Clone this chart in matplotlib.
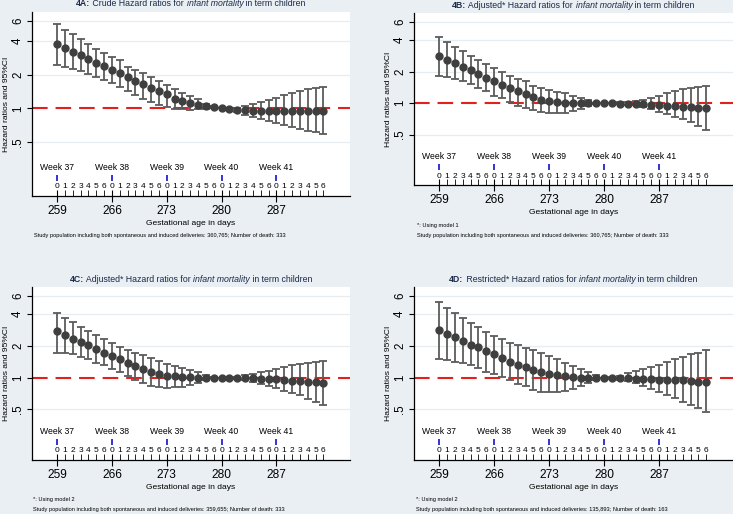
import numpy as np
import matplotlib.pyplot as plt
from matplotlib import transforms

plt.rcParams['font.family'] = ['Liberation Sans', 'DejaVu Sans']

days = np.arange(259, 294)
week_days = [259, 266, 273, 280, 287]
week_labels = ['Week 37', 'Week 38', 'Week 39', 'Week 40', 'Week 41']
yticks = [0.5, 1, 2, 4, 6]
ytick_labels = ['.5', '1', '2', '4', '6']

# 4A crude
hr_a = [3.73, 3.44, 3.19, 2.98, 2.74, 2.56, 2.37, 2.20, 2.06, 1.89, 1.77, 1.64,
        1.53, 1.42, 1.33, 1.22, 1.17, 1.12, 1.07, 1.04, 1.02, 1.00, 0.98, 0.965,
        0.96, 0.95, 0.95, 0.95, 0.95, 0.95, 0.95, 0.95, 0.95, 0.95, 0.95]
lo_a = [2.44, 2.34, 2.23, 2.14, 2.04, 1.89, 1.79, 1.67, 1.54, 1.43, 1.32, 1.22,
        1.15, 1.07, 1.02, 0.99, 0.98, 0.97, 0.98, 0.99, 1.00, 1.00, 0.97, 0.92,
        0.88, 0.84, 0.80, 0.765, 0.74, 0.71, 0.68, 0.65, 0.63, 0.61, 0.59]
hi_a = [5.64, 5.05, 4.59, 4.14, 3.76, 3.42, 3.15, 2.90, 2.71, 2.36, 2.20, 2.08,
        1.92, 1.77, 1.63, 1.48, 1.38, 1.30, 1.20, 1.10, 1.04, 1.00, 0.99, 1.01,
        1.05, 1.09, 1.14, 1.19, 1.25, 1.32, 1.37, 1.43, 1.49, 1.52, 1.55]

# 4B adjusted, model 1
hr_b = [2.84, 2.58, 2.40, 2.23, 2.05, 1.91, 1.75, 1.63, 1.50, 1.38, 1.30, 1.21,
        1.14, 1.08, 1.045, 1.02, 1.01, 1.00, 1.00, 1.00, 1.00, 1.00, 1.00, 0.99,
        0.985, 0.98, 0.97, 0.96, 0.95, 0.94, 0.93, 0.92, 0.91, 0.90, 0.89]
lo_b = [1.83, 1.77, 1.68, 1.63, 1.52, 1.40, 1.30, 1.17, 1.11, 1.03, 0.94, 0.90,
        0.85, 0.815, 0.80, 0.80, 0.81, 0.84, 0.88, 0.93, 0.99, 1.00, 1.00, 0.97,
        0.95, 0.95, 0.92, 0.87, 0.83, 0.78, 0.74, 0.70, 0.66, 0.61, 0.55]
hi_b = [4.30, 3.83, 3.46, 3.12, 2.82, 2.58, 2.37, 2.17, 1.99, 1.83, 1.70, 1.62,
        1.46, 1.40, 1.32, 1.27, 1.24, 1.18, 1.12, 1.07, 1.01, 1.00, 1.00, 1.02,
        1.03, 1.05, 1.08, 1.13, 1.18, 1.24, 1.29, 1.35, 1.39, 1.41, 1.45]

# 4C adjusted, model 2
hr_c = [2.75, 2.52, 2.34, 2.18, 2.03, 1.86, 1.73, 1.61, 1.50, 1.39, 1.30, 1.21,
        1.14, 1.09, 1.04, 1.03, 1.01, 1.01, 1.00, 1.00, 1.00, 1.00, 1.00, 1.00,
        1.00, 0.995, 0.975, 0.968, 0.96, 0.947, 0.934, 0.92, 0.914, 0.907, 0.894]
lo_c = [1.73, 1.71, 1.66, 1.56, 1.50, 1.39, 1.32, 1.22, 1.12, 1.04, 0.95, 0.88,
        0.84, 0.81, 0.80, 0.81, 0.82, 0.85, 0.89, 0.94, 0.99, 1.00, 1.00, 0.98,
        0.95, 0.91, 0.87, 0.83, 0.79, 0.75, 0.72, 0.68, 0.63, 0.59, 0.55]
hi_c = [4.12, 3.72, 3.36, 3.04, 2.75, 2.52, 2.31, 2.12, 1.97, 1.83, 1.73, 1.63,
        1.52, 1.43, 1.35, 1.28, 1.24, 1.18, 1.13, 1.07, 1.01, 1.00, 1.00, 1.02,
        1.05, 1.09, 1.12, 1.16, 1.21, 1.26, 1.31, 1.35, 1.39, 1.41, 1.43]

# 4D restricted, model 2
hr_d = [2.83, 2.59, 2.41, 2.25, 2.06, 1.94, 1.78, 1.66, 1.54, 1.41, 1.33, 1.26,
        1.17, 1.12, 1.09, 1.06, 1.03, 1.01, 1.00, 1.00, 1.00, 1.00, 1.00, 1.00,
        0.986, 0.979, 0.965, 0.965, 0.958, 0.958, 0.958, 0.944, 0.93, 0.917, 0.904]
lo_d = [1.51, 1.47, 1.41, 1.38, 1.32, 1.24, 1.14, 1.09, 1.01, 0.94, 0.87, 0.83,
        0.77, 0.73, 0.73, 0.73, 0.74, 0.78, 0.83, 0.89, 0.94, 1.00, 0.98, 0.95,
        0.92, 0.88, 0.83, 0.78, 0.73, 0.69, 0.64, 0.59, 0.55, 0.51, 0.47]
hi_d = [5.26, 4.62, 4.12, 3.67, 3.27, 3.00, 2.71, 2.48, 2.31, 2.15, 2.03, 1.92,
        1.81, 1.71, 1.61, 1.50, 1.38, 1.30, 1.21, 1.13, 1.07, 1.00, 1.02, 1.04,
        1.10, 1.15, 1.21, 1.26, 1.33, 1.41, 1.50, 1.56, 1.66, 1.73, 1.81]

panel_ids = ['4A:', '4B:', '4C:', '4D:']
panel_kinds = ['Crude', 'Adjusted*', 'Adjusted*', 'Restricted*']
notes = [[None, 'Study population including both spontaneous and induced deliveries: 360,765; Number of death: 333'],
         ['*: Using model 1', 'Study population including both spontaneous and induced deliveries: 360,765; Number of death: 333'],
         ['*: Using model 2', 'Study population including both spontaneous and induced deliveries: 359,655; Number of death: 333'],
         ['*: Using model 2', 'Study population including both spontaneous and induced deliveries: 135,893; Number of death: 163']]

W, H = 733, 514
bg = '#e9eff2'
fig = plt.figure(figsize=(W / 100, H / 100), dpi=100, facecolor=bg)
renderer = fig.canvas.get_renderer()

# axes boxes in pixels: left, top, right, bottom
boxes = [(32, 12, 350, 196), (414, 13, 733, 185), (32, 287, 350, 460), (414, 287, 733, 460)]
# footnote rows in pixels (x, y of "*" line, y of study line)
note_pos = [(34, 225, 236), (417, 225, 236), (33, 499, 509), (416, 499, 509)]
data = [(hr_a, lo_a, hi_a), (hr_b, lo_b, hi_b), (hr_c, lo_c, hi_c), (hr_d, lo_d, hi_d)]

for i, (l, t, r, b) in enumerate(boxes):
    ax = fig.add_axes([l / W, 1 - b / H, (r - l) / W, (b - t) / H])
    ax.set_facecolor('white')
    hr, lo, hi = [np.array(v) for v in data[i]]
    ax.set_yscale('log')
    ax.set_ylim(0.165, 7.25)
    ax.set_xlim(255.8, 296.4)
    for yv in [0.5, 2, 4, 6]:
        ax.axhline(yv, color='#e6ecef', lw=0.9, zorder=0)
    ax.axhline(1, color='#e3211c', lw=1.5, dashes=(7.5, 3.8), zorder=1)
    ax.errorbar(days, hr, yerr=[hr - lo, hi - hr], fmt='o', color='#3f3f3f',
                ecolor='#5c5c5c', elinewidth=1.3, capsize=2.6, capthick=1.3,
                ms=5, zorder=3)

    ax.yaxis.set_major_locator(plt.FixedLocator(yticks))
    ax.yaxis.set_minor_locator(plt.NullLocator())
    ax.set_yticklabels(ytick_labels)
    ax.tick_params(axis='y', labelrotation=90, labelsize=8.3, length=3.6, pad=2)
    for lab in ax.get_yticklabels():
        lab.set_va('center')
    ax.set_ylabel('Hazard ratios and 95%CI', fontsize=6.1, labelpad=1.5)

    ax.set_xticks(week_days)
    ax.set_xticklabels([str(d) for d in week_days])
    ax.set_xticks([d for d in days if d not in week_days], minor=True)
    ax.tick_params(axis='x', which='major', direction='inout', length=8.6,
                   labelsize=8.6, pad=2.5)
    ax.tick_params(axis='x', which='minor', direction='in', length=4.3)
    ax.set_xlabel('Gestational age in days', fontsize=6.1, labelpad=2)

    for s in ['top', 'right']:
        ax.spines[s].set_visible(False)
    ax.spines['left'].set_linewidth(0.9)
    ax.spines['bottom'].set_linewidth(0.9)

    base = transforms.blended_transform_factory(ax.transData, ax.transAxes)
    up = lambda px: base + transforms.ScaledTranslation(0, px / 100, fig.dpi_scale_trans)
    for d in days:
        ax.text(d, 0, str((d - 259) % 7), transform=up(9), ha='center',
                va='center', fontsize=6, clip_on=False)
    ax.plot(week_days, [0] * len(week_days), ls='none', marker='|', ms=4.5,
            mew=1.3, color='#2323d6', transform=up(18), clip_on=False)
    for d, w in zip(week_days, week_labels):
        ax.text(d, 0, w, transform=up(28.5), ha='center', va='center',
                fontsize=6.2, clip_on=False)

    # title in pieces: bold id, plain, italic, plain; centred over the axes
    pieces = [(panel_ids[i], 'bold', 'normal'),
              (' ' + panel_kinds[i] + ' Hazard ratios for ', 'normal', 'normal'),
              ('infant mortality', 'normal', 'italic'),
              (' in term children', 'normal', 'normal')]
    texts = []
    for s, wgt, sty in pieces:
        texts.append(fig.text(0, 1 - (t - 8) / H, s, fontsize=6.3, fontweight=wgt,
                              fontstyle=sty, color='#1c2a4a', va='center', ha='left'))
    widths = [tx.get_window_extent(renderer).width for tx in texts]
    x0 = (l + r) / 2 - sum(widths) / 2
    for tx, wdt in zip(texts, widths):
        tx.set_x(x0 / W)
        x0 += wdt

    nx, ny1, ny2 = note_pos[i]
    if notes[i][0]:
        fig.text(nx / W, 1 - ny1 / H, notes[i][0], fontsize=4.1, va='center')
    fig.text(nx / W, 1 - ny2 / H, notes[i][1], fontsize=4.1, va='center')

plt.savefig('out.png', dpi=100, facecolor=bg)
